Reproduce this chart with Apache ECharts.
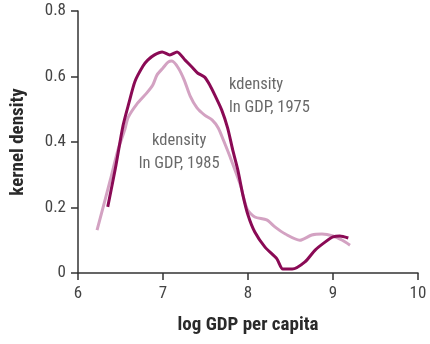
<!DOCTYPE html>
<html>
<head>
<meta charset="utf-8">
<script src="https://cdn.jsdelivr.net/npm/echarts@6/dist/echarts.min.js"></script>
<style>html,body{margin:0;padding:0;background:#fff}#c{width:430px;height:344px}</style>
</head>
<body>
<div id="c"></div>
<script>
var xTicks = [6, 7, 8, 9, 10];
var yTicks = [0, 0.2, 0.4, 0.6, 0.8];
var x1975 = [6.35,6.44,6.53,6.60,6.67,6.765,6.82,6.90,6.99,7.08,7.165,7.26,7.34,7.41,7.49,7.55,7.61,7.69,7.76,7.82,7.88,7.94,8.00,8.08,8.20,8.34,8.41,8.52,8.67,8.79,8.91,9.00,9.08,9.18];
var y1975 = [0.202,0.32,0.45,0.52,0.585,0.632,0.65,0.666,0.675,0.666,0.675,0.65,0.629,0.61,0.598,0.574,0.543,0.498,0.443,0.376,0.315,0.238,0.177,0.125,0.079,0.043,0.012,0.012,0.034,0.070,0.095,0.11,0.113,0.107];
var x1985 = [6.224,6.38,6.47,6.55,6.59,6.69,6.81,6.88,6.93,7.00,7.06,7.105,7.18,7.25,7.32,7.40,7.49,7.58,7.65,7.71,7.79,7.91,7.99,8.08,8.22,8.32,8.44,8.61,8.75,8.87,9.00,9.11,9.20];
var y1985 = [0.131,0.284,0.376,0.437,0.475,0.515,0.55,0.574,0.605,0.626,0.644,0.647,0.626,0.589,0.54,0.504,0.482,0.467,0.443,0.406,0.354,0.269,0.195,0.171,0.162,0.14,0.119,0.10,0.116,0.119,0.113,0.10,0.085];
var label1975 = 'kdensity\nln GDP, 1975';
var label1985 = 'kdensity\nln GDP, 1985';
var labelPos1975 = [7.776, 0.61];
var labelPos1985 = [7.19, 0.44];
var xTitle = 'log GDP per capita';
var yTitle = 'kernel density';

function pairs(xs, ys) { return xs.map(function (x, i) { return [x, ys[i]]; }); }
var FONT = '"Roboto Condensed", Roboto, sans-serif';
var chart = echarts.init(document.getElementById('c'), null, {renderer: 'canvas'});
var axisCommon = {
  axisLine: {show: true, lineStyle: {color: '#333', width: 1.5}},
  axisTick: {show: true, inside: false, length: 7, lineStyle: {color: '#333', width: 1.5}},
  splitLine: {show: false},
  nameTextStyle: {fontFamily: FONT, fontWeight: 'bold', fontSize: 19, color: '#2a2a2a'}
};
function textSeries(pos, text, align) {
  return {type: 'scatter', data: [pos], symbol: 'circle', symbolSize: 1,
    itemStyle: {color: 'rgba(0,0,0,0)'}, silent: true, z: 5,
    label: {show: true, position: 'inside', formatter: text, fontFamily: FONT, fontSize: 16.5, lineHeight: 23,
      color: '#444', align: align, verticalAlign: 'top'}};
}
chart.setOption({
  animation: false,
  grid: {left: 78, right: 12, top: 11, bottom: 71},
  xAxis: Object.assign({}, axisCommon, {
    type: 'value', min: xTicks[0], max: xTicks[xTicks.length - 1], interval: 1,
    name: xTitle, nameLocation: 'middle', nameGap: 43,
    axisLabel: {fontFamily: FONT, fontSize: 17, color: '#444', margin: 12}
  }),
  yAxis: Object.assign({}, axisCommon, {
    type: 'value', min: yTicks[0], max: yTicks[yTicks.length - 1], interval: 0.2,
    name: yTitle, nameLocation: 'middle', nameGap: 50,
    axisLabel: {fontFamily: FONT, fontSize: 17, color: '#444', margin: 12,
      formatter: function (v) { return v === 0 ? '0' : v.toFixed(1); }}
  }),
  series: [
    {type: 'line', data: pairs(x1985, y1985), showSymbol: false, smooth: 0.25,
      lineStyle: {color: '#d3a2c2', width: 3}, z: 2},
    {type: 'line', data: pairs(x1975, y1975), showSymbol: false, smooth: 0.25,
      lineStyle: {color: '#8a0a55', width: 3}, z: 3},
    textSeries(labelPos1975, label1975, 'left'),
    textSeries(labelPos1985, label1985, 'center')
  ]
});
</script>
</body>
</html>
